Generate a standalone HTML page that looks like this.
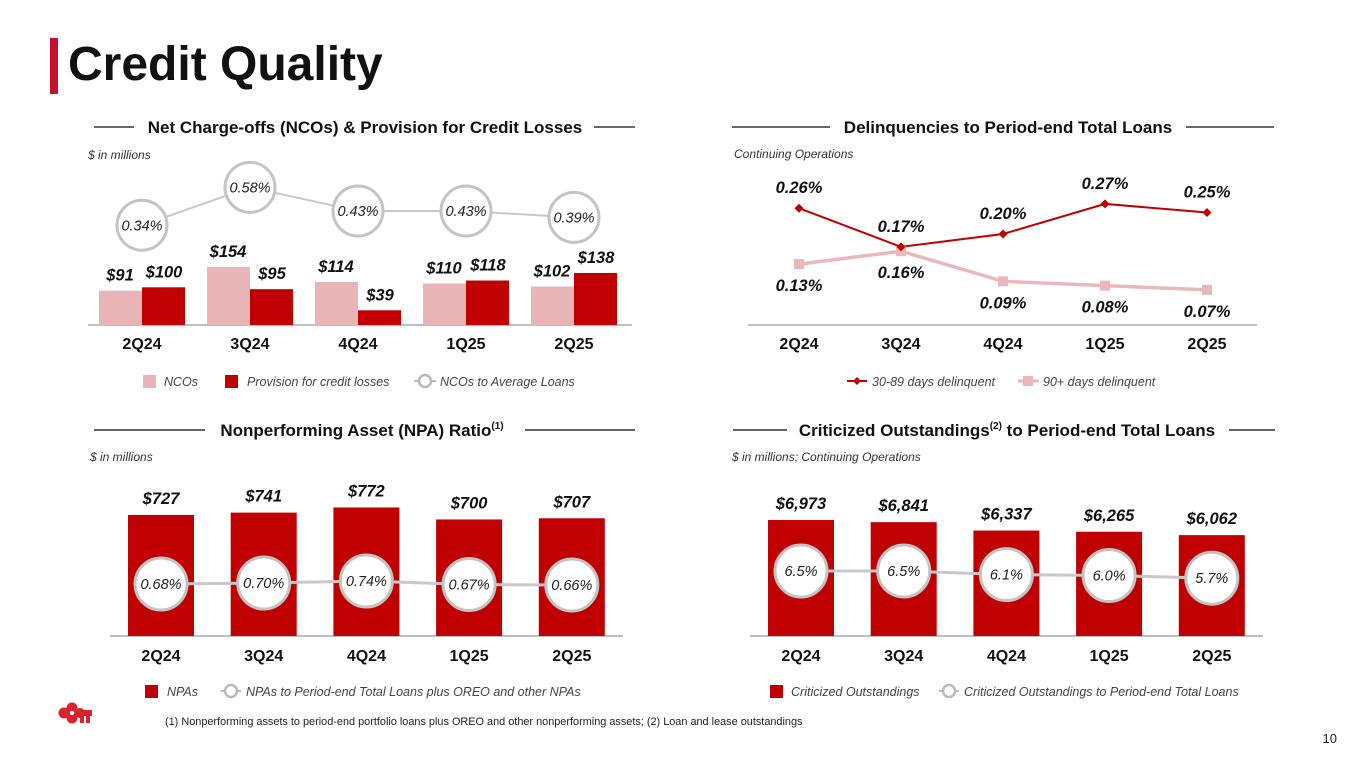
<!DOCTYPE html>
<html><head><meta charset="utf-8">
<style>
html,body{margin:0;padding:0;background:#fff;}
svg{display:block;font-family:"Liberation Sans",Arial,sans-serif;}
.st{font-size:17px;font-weight:bold;fill:#111;}
.sub{font-size:12px;font-style:italic;fill:#333;}
.cat{font-size:16px;font-weight:bold;fill:#111;}
.val{font-size:16.5px;font-weight:bold;font-style:italic;fill:#111;}
.pct{font-size:14.5px;font-style:italic;fill:#222;}
.leg{font-size:12.5px;font-style:italic;fill:#444;}
</style></head><body>
<svg id="page" width="1365" height="768" viewBox="0 0 1365 768">
<rect x="50" y="38" width="8" height="56" fill="#c8102e"/>
<text x="68" y="80" font-size="48" font-weight="bold" fill="#111">Credit Quality</text>

<g>
<line x1="94" y1="127" x2="134" y2="127" stroke="#333" stroke-width="1.5"/>
<line x1="594" y1="127" x2="635" y2="127" stroke="#333" stroke-width="1.5"/>
<text class="st" x="365" y="133" text-anchor="middle">Net Charge-offs (NCOs) &amp; Provision for Credit Losses</text>
</g>
<g>
<line x1="732" y1="127" x2="830" y2="127" stroke="#333" stroke-width="1.5"/>
<line x1="1186" y1="127" x2="1274" y2="127" stroke="#333" stroke-width="1.5"/>
<text class="st" x="1008" y="133" text-anchor="middle">Delinquencies to Period-end Total Loans</text>
</g>
<g>
<line x1="94" y1="430" x2="205" y2="430" stroke="#333" stroke-width="1.5"/>
<line x1="525" y1="430" x2="635" y2="430" stroke="#333" stroke-width="1.5"/>
<text class="st" x="362" y="436" text-anchor="middle">Nonperforming Asset (NPA) Ratio<tspan font-size="10" dy="-7">(1)</tspan></text>
</g>
<g>
<line x1="733" y1="430" x2="787" y2="430" stroke="#333" stroke-width="1.5"/>
<line x1="1229" y1="430" x2="1275" y2="430" stroke="#333" stroke-width="1.5"/>
<text class="st" x="1007" y="436" text-anchor="middle">Criticized Outstandings<tspan font-size="10" dy="-7">(2)</tspan><tspan dy="7"> to Period-end Total Loans</tspan></text>
</g>

<text class="sub" x="88" y="159">$ in millions</text>
<text class="sub" x="734" y="158">Continuing Operations</text>
<text class="sub" x="90" y="461">$ in millions</text>
<text class="sub" x="732" y="461">$ in millions; Continuing Operations</text>

<g id="c1"></g>
<g id="c2"></g>
<g id="c3"></g>
<g id="c4"></g>

<g>
<rect x="143" y="375" width="13" height="13" fill="#e8b4b6"/>
<text class="leg" x="164" y="386">NCOs</text>
<rect x="225" y="375" width="13" height="13" fill="#c00000"/>
<text class="leg" x="247" y="386">Provision for credit losses</text>
<line x1="414" y1="381" x2="436" y2="381" stroke="#bbb" stroke-width="2"/>
<circle cx="425" cy="381" r="6" fill="#fff" stroke="#bbb" stroke-width="2.5"/>
<text class="leg" x="440" y="386">NCOs to Average Loans</text>
</g>
<g>
<line x1="847" y1="381" x2="867" y2="381" stroke="#c00000" stroke-width="2"/>
<path d="M857 377 L861 381 L857 385 L853 381Z" fill="#c00000"/>
<text class="leg" x="872" y="386">30-89 days delinquent</text>
<line x1="1018" y1="381" x2="1039" y2="381" stroke="#eab8ba" stroke-width="3"/>
<rect x="1023" y="376" width="10" height="10" fill="#eab8ba"/>
<text class="leg" x="1043" y="386">90+ days delinquent</text>
</g>
<g>
<rect x="145" y="685" width="13" height="13" fill="#c00000"/>
<text class="leg" x="167" y="696">NPAs</text>
<line x1="221" y1="691" x2="241" y2="691" stroke="#bbb" stroke-width="2"/>
<circle cx="231" cy="691" r="6" fill="#fff" stroke="#bbb" stroke-width="2.5"/>
<text class="leg" x="246" y="696">NPAs to Period-end Total Loans plus OREO and other NPAs</text>
</g>
<g>
<rect x="770" y="685" width="13" height="13" fill="#c00000"/>
<text class="leg" x="791" y="696">Criticized Outstandings</text>
<line x1="939" y1="691" x2="959" y2="691" stroke="#bbb" stroke-width="2"/>
<circle cx="949" cy="691" r="6" fill="#fff" stroke="#bbb" stroke-width="2.5"/>
<text class="leg" x="964" y="696">Criticized Outstandings to Period-end Total Loans</text>
</g>

<g fill="#d6232c">
<circle cx="64" cy="713" r="5.5"/><circle cx="72" cy="708" r="5.5"/><circle cx="72" cy="718" r="5.5"/><circle cx="80" cy="713" r="5"/>
<circle cx="72" cy="713" r="2.2" fill="#fff"/>
<rect x="78" y="710" width="14" height="6"/>
<rect x="80" y="716" width="4" height="7"/><rect x="86" y="716" width="4" height="7"/>
</g>
<text x="165" y="725" font-size="10.9" fill="#222">(1) Nonperforming assets to period-end portfolio loans plus OREO and other nonperforming assets; (2) Loan and lease outstandings</text>
<text x="1337" y="743" font-size="13" fill="#222" text-anchor="end">10</text>
</svg>
<script>
const quarters = ["2Q24","3Q24","4Q24","1Q25","2Q25"];
// Chart 1
const ncoValues = [91,154,114,110,102];
const provisionValues = [100,95,39,118,138];
const ncoRatio = [0.34,0.58,0.43,0.43,0.39];
// Chart 2
const delinq3089 = [0.26,0.17,0.20,0.27,0.25];
const delinq90 = [0.13,0.16,0.09,0.08,0.07];
// Chart 3
const npaValues = [727,741,772,700,707];
const npaRatio = [0.68,0.70,0.74,0.67,0.66];
const npaLabels = ["$727","$741","$772","$700","$707"];
// Chart 4
const critValues = [6973,6841,6337,6265,6062];
const critRatio = [6.5,6.5,6.1,6.0,5.7];
const critLabels = ["$6,973","$6,841","$6,337","$6,265","$6,062"];

const NS="http://www.w3.org/2000/svg";
function mk(parent,tag,attrs,text){const e=document.createElementNS(NS,tag);for(const k in attrs)e.setAttribute(k,attrs[k]);if(text!==undefined)e.textContent=text;parent.appendChild(e);return e;}

(function(){
  const g=document.getElementById('c1');
  const base=325, xc=i=>142+i*108, yb=v=>base-v*0.377, yr=v=>279-v*158;
  mk(g,'line',{x1:88,y1:base,x2:632,y2:base,stroke:'#aaa','stroke-width':1.5});
  quarters.forEach((q,i)=>{
    const c=xc(i);
    const r1=mk(g,'rect',{x:c-43,y:yb(ncoValues[i]),width:43,height:base-yb(ncoValues[i]),fill:'#e8b4b6'});
    
    
    const r2=mk(g,'rect',{x:c,y:yb(provisionValues[i]),width:43,height:base-yb(provisionValues[i]),fill:'#c00000'});
    
    
    mk(g,'text',{class:'val',x:c-22,y:yb(ncoValues[i])-10,'text-anchor':'middle'},'$'+ncoValues[i]);
    mk(g,'text',{class:'val',x:c+22,y:yb(provisionValues[i])-10,'text-anchor':'middle'},'$'+provisionValues[i]);
    const t=mk(g,'text',{class:'cat',x:c,y:349,'text-anchor':'middle'},q);
    
    
  });
  mk(g,'polyline',{points:ncoRatio.map((v,i)=>xc(i)+','+yr(v)).join(' '),fill:'none',stroke:'#c8c8c8','stroke-width':2});
  ncoRatio.forEach((v,i)=>{
    const c=mk(g,'circle',{cx:xc(i),cy:yr(v),r:25,fill:'#fff',stroke:'#c4c4c4','stroke-width':3});
    
    
    mk(g,'text',{class:'pct',x:xc(i),y:yr(v)+5,'text-anchor':'middle'},v.toFixed(2)+'%');
  });
})();

(function(){
  const g=document.getElementById('c2');
  const base=325, xc=i=>799+i*102, y=v=>320-v*430;
  mk(g,'line',{x1:748,y1:base,x2:1257,y2:base,stroke:'#aaa','stroke-width':1.5});
  mk(g,'polyline',{points:delinq90.map((v,i)=>xc(i)+','+y(v)).join(' '),fill:'none',stroke:'#eab8ba','stroke-width':3.5});
  mk(g,'polyline',{points:delinq3089.map((v,i)=>xc(i)+','+y(v)).join(' '),fill:'none',stroke:'#c00000','stroke-width':2});
  quarters.forEach((q,i)=>{
    const c=xc(i);
    const s=mk(g,'rect',{x:c-5,y:y(delinq90[i])-5,width:10,height:10,fill:'#eab8ba'});
    
    
    const d=mk(g,'path',{d:`M${c} ${y(delinq3089[i])-4.5} l4.5 4.5 l-4.5 4.5 l-4.5 -4.5z`,fill:'#c00000'});
    
    
    mk(g,'text',{class:'val',x:c,y:y(delinq3089[i])-15,'text-anchor':'middle'},delinq3089[i].toFixed(2)+'%');
    mk(g,'text',{class:'val',x:c,y:y(delinq90[i])+27,'text-anchor':'middle'},delinq90[i].toFixed(2)+'%');
    const t=mk(g,'text',{class:'cat',x:c,y:349,'text-anchor':'middle'},q);
    
    
  });
})();

function barRatio(id,vals,labels,ratios,x0,barScale,yr,fmt,name){
  const g=document.getElementById(id);
  const base=636, xc=i=>x0+i*102.7;
  mk(g,'line',{x1:x0-51,y1:base,x2:x0+462,y2:base,stroke:'#aaa','stroke-width':1.5});
  quarters.forEach((q,i)=>{
    const c=xc(i), top=base-vals[i]*barScale;
    const r=mk(g,'rect',{x:c-33,y:top,width:66,height:base-top,fill:'#c00000'});
    
    
    mk(g,'text',{class:'val',x:c,y:top-11,'text-anchor':'middle'},labels[i]);
    const t=mk(g,'text',{class:'cat',x:c,y:661,'text-anchor':'middle'},q);
    
    
  });
  mk(g,'polyline',{points:ratios.map((v,i)=>xc(i)+','+yr(v)).join(' '),fill:'none',stroke:'#c8c8c8','stroke-width':3});
  ratios.forEach((v,i)=>{
    const c=mk(g,'circle',{cx:xc(i),cy:yr(v),r:26,fill:'#fff',stroke:'#c4c4c4','stroke-width':3});
    
    
    mk(g,'text',{class:'pct',x:xc(i),y:yr(v)+5,'text-anchor':'middle'},fmt(v));
  });
}
barRatio('c3',npaValues,npaLabels,npaRatio,161,0.1665,v=>584-(v-0.68)*50,v=>v.toFixed(2)+'%','npa');
barRatio('c4',critValues,critLabels,critRatio,801,0.01664,v=>571+(6.5-v)*9,v=>v.toFixed(1)+'%','criticized');
</script>
</body></html>
